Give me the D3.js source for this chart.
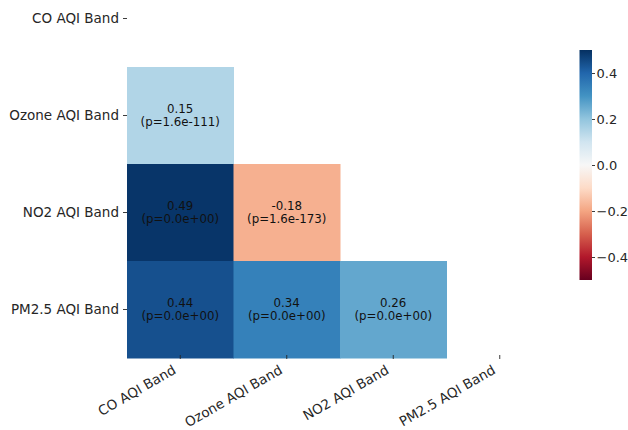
<!DOCTYPE html>
<html>
<head>
<meta charset="utf-8">
<script src="https://cdn.jsdelivr.net/npm/d3@7"></script>
<style>
  body { margin: 0; background: #fff; }
  svg { display: block; font-family: "DejaVu Sans", sans-serif; }
  .axis path.domain { display: none; }
  .axis line { stroke: #262626; stroke-width: 0.9; }
  .axis text { fill: #262626; font-size: 13.5px; font-family: "DejaVu Sans", sans-serif; }
  .axis.cb text { font-size: 13px; }
</style>
</head>
<body>
<script>
"use strict";

// variables, in row/column order
var bands = ["CO AQI Band", "Ozone AQI Band", "NO2 AQI Band", "PM2.5 AQI Band"];

// lower triangle only: correlation coefficient and p-value text
var rValues = [
  [null, null, null, null],
  [0.15, null, null, null],
  [0.49, -0.18, null, null],
  [0.44, 0.34, 0.26, null]
];
var pValues = [
  [null, null, null, null],
  ["1.6e-111", null, null, null],
  ["0.0e+00", "1.6e-173", null, null],
  ["0.0e+00", "0.0e+00", "0.0e+00", null]
];
var cbarTicks = [-0.4, -0.2, 0.0, 0.2, 0.4];
var cbarDomain = [-0.5, 0.5];

// diverging palette (red -> white -> blue), linear between stops like matplotlib
var rdbu = ["#67001f", "#b2182b", "#d6604d", "#f4a582", "#fddbc7", "#f7f7f7",
            "#d1e5f0", "#92c5de", "#4393c3", "#2166ac", "#053061"];

var width = 628, height = 430;

var svg = d3.select("body").append("svg")
    .attr("width", width)
    .attr("height", height);

// scales
var x = d3.scaleBand().domain(bands).range([127, 553]).padding(0);
var y = d3.scaleBand().domain(bands).range([-30, 358]).padding(0);
var color = d3.scaleLinear()
    .domain(d3.range(rdbu.length).map(function(i){
      return cbarDomain[0] + (cbarDomain[1] - cbarDomain[0]) * i / (rdbu.length - 1);
    }))
    .range(rdbu)
    .interpolate(d3.interpolateRgb)
    .clamp(true);

// flatten the matrix into cells
var cells = [];
rValues.forEach(function(row, i){
  row.forEach(function(v, j){
    if (v !== null) cells.push({row: bands[i], col: bands[j], r: v, p: pValues[i][j]});
  });
});

var gCells = svg.append("g").attr("class", "cells");
gCells.selectAll("rect")
  .data(cells)
  .enter().append("rect")
    .attr("x", function(d){ return x(d.col); })
    .attr("y", function(d){ return y(d.row); })
    .attr("width", x.bandwidth() + 0.5)
    .attr("height", y.bandwidth() + 0.5)
    .attr("fill", function(d){ return color(d.r); });

var labels = gCells.selectAll("text")
  .data(cells)
  .enter().append("text")
    .attr("text-anchor", "middle")
    .attr("font-size", "11.8px")
    .attr("fill", "#111")
    .attr("transform", function(d){
      return "translate(" + (x(d.col) + x.bandwidth()/2) + "," + (y(d.row) + y.bandwidth()/2) + ")";
    });
labels.append("tspan")
    .attr("x", 0).attr("y", -3)
    .text(function(d){ return d.r.toFixed(2); });
labels.append("tspan")
    .attr("x", 0).attr("y", 10.5)
    .text(function(d){ return "(p=" + d.p + ")"; });

// axes
var xAxis = d3.axisBottom(x).tickSize(4).tickPadding(3);
var gX = svg.append("g")
    .attr("class", "axis x")
    .attr("transform", "translate(0,355)")
    .call(xAxis);
gX.selectAll("text")
    .attr("text-anchor", "end")
    .attr("dy", "0.75em")
    .attr("y", 0)
    .attr("transform", "translate(-8.5,9) rotate(-30)");

var yAxis = d3.axisLeft(y).tickSize(4).tickPadding(4);
svg.append("g")
    .attr("class", "axis y")
    .attr("transform", "translate(127,0)")
    .call(yAxis);

// colorbar
var cbX = 579.5, cbW = 12.5;
var cbScale = d3.scaleLinear().domain(cbarDomain).range([280, 50]);
var defs = svg.append("defs");
var grad = defs.append("linearGradient")
    .attr("id", "cbar")
    .attr("x1", 0).attr("y1", 1).attr("x2", 0).attr("y2", 0);
rdbu.forEach(function(c, i){
  grad.append("stop")
    .attr("offset", i / (rdbu.length - 1))
    .attr("stop-color", c);
});
svg.append("rect")
    .attr("x", cbX)
    .attr("y", cbScale(cbarDomain[1]))
    .attr("width", cbW)
    .attr("height", cbScale(cbarDomain[0]) - cbScale(cbarDomain[1]))
    .attr("fill", "url(#cbar)");

var cbAxis = d3.axisRight(cbScale)
    .tickValues(cbarTicks)
    .tickSize(3)
    .tickPadding(1.5)
    .tickFormat(function(d){ return d3.format(".1f")(d).replace("-", "\u2212"); });
svg.append("g")
    .attr("class", "axis cb")
    .attr("transform", "translate(" + (cbX + cbW) + ",0)")
    .call(cbAxis);
</script>
</body>
</html>
